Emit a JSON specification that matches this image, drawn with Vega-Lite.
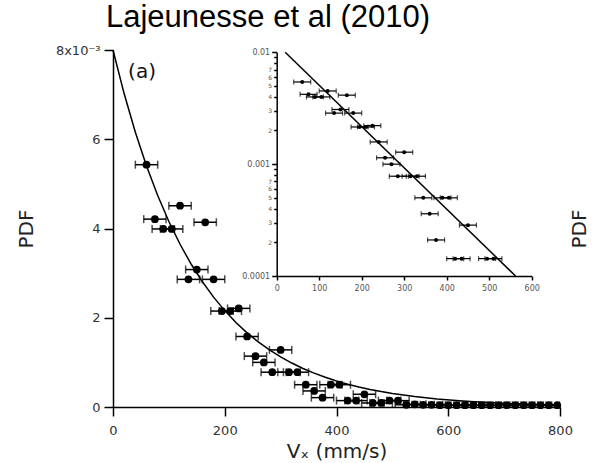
{
  "$schema": "https://vega.github.io/schema/vega-lite/v6.json",
  "width": 447,
  "height": 357,
  "autosize": {"type": "none"},
  "padding": {"left": 113, "top": 50, "right": 34, "bottom": 56},
  "background": "white",
  "title": {"text": "Lajeunesse et al (2010)", "anchor": "start", "frame": "group", "dx": -7, "offset": 10, "font": "Liberation Sans", "fontSize": 31, "fontWeight": "normal", "color": "black"},
  "config": {"view": {"stroke": null}, "axis": {"grid": false}},
  "datasets": {
    "pts": [
      {"x": 60, "y": 0.00543, "xlo": 40, "xhi": 80},
      {"x": 75, "y": 0.00421, "xlo": 55, "xhi": 95},
      {"x": 90, "y": 0.00399, "xlo": 70, "xhi": 110},
      {"x": 105, "y": 0.00399, "xlo": 85, "xhi": 125},
      {"x": 120, "y": 0.00451, "xlo": 100, "xhi": 140},
      {"x": 135, "y": 0.00286, "xlo": 115, "xhi": 155},
      {"x": 150, "y": 0.00308, "xlo": 130, "xhi": 170},
      {"x": 165, "y": 0.00414, "xlo": 145, "xhi": 185},
      {"x": 180, "y": 0.00286, "xlo": 160, "xhi": 200},
      {"x": 195, "y": 0.00215, "xlo": 175, "xhi": 215},
      {"x": 210, "y": 0.00215, "xlo": 190, "xhi": 230},
      {"x": 225, "y": 0.00221, "xlo": 205, "xhi": 245},
      {"x": 240, "y": 0.00158, "xlo": 220, "xhi": 260},
      {"x": 255, "y": 0.00114, "xlo": 235, "xhi": 275},
      {"x": 270, "y": 0.00100, "xlo": 250, "xhi": 290},
      {"x": 285, "y": 0.00078, "xlo": 265, "xhi": 305},
      {"x": 300, "y": 0.00128, "xlo": 280, "xhi": 320},
      {"x": 315, "y": 0.00078, "xlo": 295, "xhi": 335},
      {"x": 330, "y": 0.00078, "xlo": 310, "xhi": 350},
      {"x": 345, "y": 0.00050, "xlo": 325, "xhi": 365},
      {"x": 360, "y": 0.00036, "xlo": 340, "xhi": 380},
      {"x": 375, "y": 0.00021, "xlo": 355, "xhi": 395},
      {"x": 390, "y": 0.00050, "xlo": 370, "xhi": 410},
      {"x": 405, "y": 0.00050, "xlo": 385, "xhi": 425},
      {"x": 420, "y": 0.000143, "xlo": 400, "xhi": 440},
      {"x": 435, "y": 0.000143, "xlo": 415, "xhi": 455},
      {"x": 450, "y": 0.000285, "xlo": 430, "xhi": 470},
      {"x": 465, "y": 0.00009, "xlo": 445, "xhi": 485},
      {"x": 480, "y": 0.00009, "xlo": 460, "xhi": 500},
      {"x": 495, "y": 0.000143, "xlo": 475, "xhi": 515},
      {"x": 510, "y": 0.000143, "xlo": 490, "xhi": 530},
      {"x": 525, "y": 0.00005, "xlo": 505, "xhi": 545},
      {"x": 540, "y": 0.00006, "xlo": 520, "xhi": 560},
      {"x": 555, "y": 0.00005, "xlo": 535, "xhi": 575},
      {"x": 570, "y": 0.00005, "xlo": 550, "xhi": 590},
      {"x": 585, "y": 0.00004, "xlo": 565, "xhi": 605},
      {"x": 600, "y": 0.00004, "xlo": 580, "xhi": 620},
      {"x": 615, "y": 0.00004, "xlo": 595, "xhi": 635},
      {"x": 630, "y": 0.00004, "xlo": 610, "xhi": 650},
      {"x": 645, "y": 0.00004, "xlo": 625, "xhi": 665},
      {"x": 660, "y": 0.00004, "xlo": 640, "xhi": 680},
      {"x": 675, "y": 0.00004, "xlo": 655, "xhi": 695},
      {"x": 690, "y": 0.00004, "xlo": 670, "xhi": 710},
      {"x": 705, "y": 0.00004, "xlo": 685, "xhi": 725},
      {"x": 720, "y": 0.00004, "xlo": 700, "xhi": 740},
      {"x": 735, "y": 0.00004, "xlo": 715, "xhi": 755},
      {"x": 750, "y": 0.00004, "xlo": 730, "xhi": 770},
      {"x": 765, "y": 0.00004, "xlo": 745, "xhi": 785},
      {"x": 780, "y": 0.00004, "xlo": 760, "xhi": 800},
      {"x": 795, "y": 0.00004, "xlo": 775, "xhi": 815}
    ],
    "curve": [
      {"x": 0, "y": 0.008}, {"x": 20, "y": 0.007018}, {"x": 40, "y": 0.006157}, {"x": 60, "y": 0.005401},
      {"x": 80, "y": 0.004739}, {"x": 100, "y": 0.004157}, {"x": 120, "y": 0.003647}, {"x": 140, "y": 0.003199},
      {"x": 160, "y": 0.002807}, {"x": 180, "y": 0.002462}, {"x": 200, "y": 0.00216}, {"x": 220, "y": 0.001895},
      {"x": 240, "y": 0.001662}, {"x": 260, "y": 0.001458}, {"x": 280, "y": 0.001279}, {"x": 300, "y": 0.001122},
      {"x": 320, "y": 0.000985}, {"x": 340, "y": 0.000864}, {"x": 360, "y": 0.000758}, {"x": 380, "y": 0.000665},
      {"x": 400, "y": 0.000583}, {"x": 420, "y": 0.000512}, {"x": 440, "y": 0.000449}, {"x": 460, "y": 0.000394},
      {"x": 480, "y": 0.000345}, {"x": 500, "y": 0.000303}, {"x": 540, "y": 0.000233}, {"x": 580, "y": 0.000179},
      {"x": 620, "y": 0.000138}, {"x": 660, "y": 0.000106}, {"x": 700, "y": 0.000082}, {"x": 750, "y": 0.000059},
      {"x": 800, "y": 0.000043}
    ],
    "fit": [{"x": 20, "y": 0.01}, {"x": 562, "y": 0.0001}],
    "lab": [{"x": 52, "y": 0.0075, "text": "(a)"}]
  },
  "layer": [
    {
      "data": {"name": "curve"},
      "mark": {"type": "line", "color": "black", "strokeWidth": 1.5},
      "encoding": {
        "x": {"field": "x", "type": "quantitative", "scale": {"domain": [0, 800], "nice": false},
          "axis": {"orient": "bottom", "title": "Vₓ (mm/s)", "values": [0, 200, 400, 600, 800], "tickSize": 9, "tickColor": "black", "tickWidth": 1.5, "domainColor": "black", "domainWidth": 1.5, "labelFont": "DejaVu Sans", "labelFontSize": 13, "labelColor": "#333", "labelPadding": 8, "titleFont": "DejaVu Sans", "titleFontSize": 20, "titleFontWeight": "normal", "titleColor": "#222", "titlePadding": 4, "labelFlush": false}},
        "y": {"field": "y", "type": "quantitative", "scale": {"domain": [0, 0.008], "nice": false},
          "axis": {"orient": "left", "title": "PDF", "values": [0, 0.002, 0.004, 0.006, 0.008], "labelExpr": "datum.value > 0.0079 ? '8x10⁻³' : format(datum.value*1000, 'd')", "tickSize": 9, "tickColor": "black", "tickWidth": 1.5, "domainColor": "black", "domainWidth": 1.5, "labelFont": "DejaVu Sans", "labelFontSize": 13, "labelColor": "#333", "labelPadding": 4, "titleFont": "DejaVu Sans", "titleFontSize": 20, "titleFontWeight": "normal", "titleColor": "#222", "titlePadding": 19, "labelFlush": false}}
      }
    },
    {
      "data": {"name": "pts"},
      "mark": {"type": "rule", "color": "black", "strokeWidth": 1.5, "clip": true},
      "encoding": {
        "x": {"field": "xlo", "type": "quantitative", "scale": {"domain": [0, 800], "nice": false}, "axis": null},
        "x2": {"field": "xhi"},
        "y": {"field": "y", "type": "quantitative", "scale": {"domain": [0, 0.008], "nice": false}, "axis": null}
      }
    },
    {
      "data": {"name": "pts"},
      "mark": {"type": "tick", "orient": "vertical", "color": "black", "size": 8, "thickness": 1.5, "clip": true},
      "encoding": {
        "x": {"field": "xlo", "type": "quantitative", "scale": {"domain": [0, 800], "nice": false}, "axis": null},
        "y": {"field": "y", "type": "quantitative", "scale": {"domain": [0, 0.008], "nice": false}, "axis": null}
      }
    },
    {
      "data": {"name": "pts"},
      "mark": {"type": "tick", "orient": "vertical", "color": "black", "size": 8, "thickness": 1.5, "clip": true},
      "encoding": {
        "x": {"field": "xhi", "type": "quantitative", "scale": {"domain": [0, 800], "nice": false}, "axis": null},
        "y": {"field": "y", "type": "quantitative", "scale": {"domain": [0, 0.008], "nice": false}, "axis": null}
      }
    },
    {
      "data": {"name": "pts"},
      "mark": {"type": "point", "filled": true, "color": "black", "opacity": 1, "size": 60},
      "encoding": {
        "x": {"field": "x", "type": "quantitative", "scale": {"domain": [0, 800], "nice": false}, "axis": null},
        "y": {"field": "y", "type": "quantitative", "scale": {"domain": [0, 0.008], "nice": false}, "axis": null}
      }
    },
    {
      "data": {"name": "lab"},
      "mark": {"type": "text", "font": "DejaVu Sans", "fontSize": 20, "color": "#111", "align": "center", "baseline": "middle"},
      "encoding": {
        "x": {"field": "x", "type": "quantitative", "scale": {"domain": [0, 800], "nice": false}, "axis": null},
        "y": {"field": "y", "type": "quantitative", "scale": {"domain": [0, 0.008], "nice": false}, "axis": null},
        "text": {"field": "text"}
      }
    },
    {
      "data": {"name": "fit"},
      "mark": {"type": "line", "color": "black", "strokeWidth": 1.5},
      "encoding": {
        "x": {"field": "x", "type": "quantitative", "scale": {"domain": [0, 600], "nice": false, "range": [163.7, 418.7]},
          "axis": {"orient": "bottom", "offset": -131, "title": null, "values": [0, 100, 200, 300, 400, 500, 600], "tickSize": 4, "tickColor": "black", "tickWidth": 1.5, "domainColor": "black", "domainWidth": 1.5, "labelFont": "DejaVu Sans", "labelFontSize": 8, "labelColor": "#555", "labelPadding": 4, "labelFlush": false, "labelOverlap": false}},
        "y": {"field": "y", "type": "quantitative", "scale": {"type": "log", "domain": [0.0001, 0.01], "nice": false, "range": [226, 2.3]},
          "axis": {"orient": "left", "offset": -163.7, "title": null,
            "values": [0.0001, 0.0002, 0.0003, 0.0004, 0.0005, 0.0006, 0.0007, 0.0008, 0.0009, 0.001, 0.002, 0.003, 0.004, 0.005, 0.006, 0.007, 0.008, 0.009, 0.01],
            "labelExpr": "datum.value > 0.0095 ? '0.01' : (abs(datum.value - 0.001) < 0.00000001 ? '0.001' : (datum.value < 0.000105 ? '0.0001' : (datum.value < 0.00095 ? (round(datum.value*10000) >= 8 ? '' : toString(round(datum.value*10000))) : (round(datum.value*1000) >= 8 ? '' : toString(round(datum.value*1000))))))",
            "tickSize": {"condition": {"test": "abs(log(datum.value)/LN10 - round(log(datum.value)/LN10)) < 0.01", "value": 5}, "value": 3},
            "labelFontSize": {"condition": {"test": "abs(log(datum.value)/LN10 - round(log(datum.value)/LN10)) < 0.01", "value": 8}, "value": 6},
            "tickColor": "black", "tickWidth": 1.5, "domainColor": "black", "domainWidth": 1.5, "labelFont": "DejaVu Sans", "labelColor": "#555", "labelPadding": 2, "labelFlush": false, "labelOverlap": false}}
      }
    },
    {
      "data": {"name": "pts"},
      "transform": [{"filter": "datum.y >= 0.0001"}],
      "mark": {"type": "rule", "color": "black", "strokeWidth": 1.2},
      "encoding": {
        "x": {"field": "xlo", "type": "quantitative", "scale": {"domain": [0, 600], "nice": false, "range": [163.7, 418.7]}, "axis": null},
        "x2": {"field": "xhi"},
        "y": {"field": "y", "type": "quantitative", "scale": {"type": "log", "domain": [0.0001, 0.01], "nice": false, "range": [226, 2.3]}, "axis": null}
      }
    },
    {
      "data": {"name": "pts"},
      "transform": [{"filter": "datum.y >= 0.0001"}],
      "mark": {"type": "tick", "orient": "vertical", "color": "black", "size": 5, "thickness": 1.2},
      "encoding": {
        "x": {"field": "xlo", "type": "quantitative", "scale": {"domain": [0, 600], "nice": false, "range": [163.7, 418.7]}, "axis": null},
        "y": {"field": "y", "type": "quantitative", "scale": {"type": "log", "domain": [0.0001, 0.01], "nice": false, "range": [226, 2.3]}, "axis": null}
      }
    },
    {
      "data": {"name": "pts"},
      "transform": [{"filter": "datum.y >= 0.0001"}],
      "mark": {"type": "tick", "orient": "vertical", "color": "black", "size": 5, "thickness": 1.2},
      "encoding": {
        "x": {"field": "xhi", "type": "quantitative", "scale": {"domain": [0, 600], "nice": false, "range": [163.7, 418.7]}, "axis": null},
        "y": {"field": "y", "type": "quantitative", "scale": {"type": "log", "domain": [0.0001, 0.01], "nice": false, "range": [226, 2.3]}, "axis": null}
      }
    },
    {
      "data": {"name": "pts"},
      "transform": [{"filter": "datum.y >= 0.0001"}],
      "mark": {"type": "point", "filled": true, "color": "black", "opacity": 1, "size": 16},
      "encoding": {
        "x": {"field": "x", "type": "quantitative", "scale": {"domain": [0, 600], "nice": false, "range": [163.7, 418.7]}, "axis": null},
        "y": {"field": "y", "type": "quantitative", "scale": {"type": "log", "domain": [0.0001, 0.01], "nice": false, "range": [226, 2.3]}, "axis": null}
      }
    },
    {
      "data": {"name": "fit"},
      "mark": {"type": "point", "opacity": 0},
      "encoding": {
        "y": {"field": "y", "type": "quantitative", "scale": {"domain": [0, 1]},
          "axis": {"orient": "right", "title": "PDF", "labels": false, "ticks": false, "domain": false, "titleAngle": 270, "titleBaseline": "top", "titleFont": "DejaVu Sans", "titleFontSize": 20, "titleFontWeight": "normal", "titleColor": "#222", "titlePadding": 9}}
      }
    }
  ],
  "resolve": {"scale": {"x": "independent", "y": "independent"}, "axis": {"x": "independent", "y": "independent"}}
}
